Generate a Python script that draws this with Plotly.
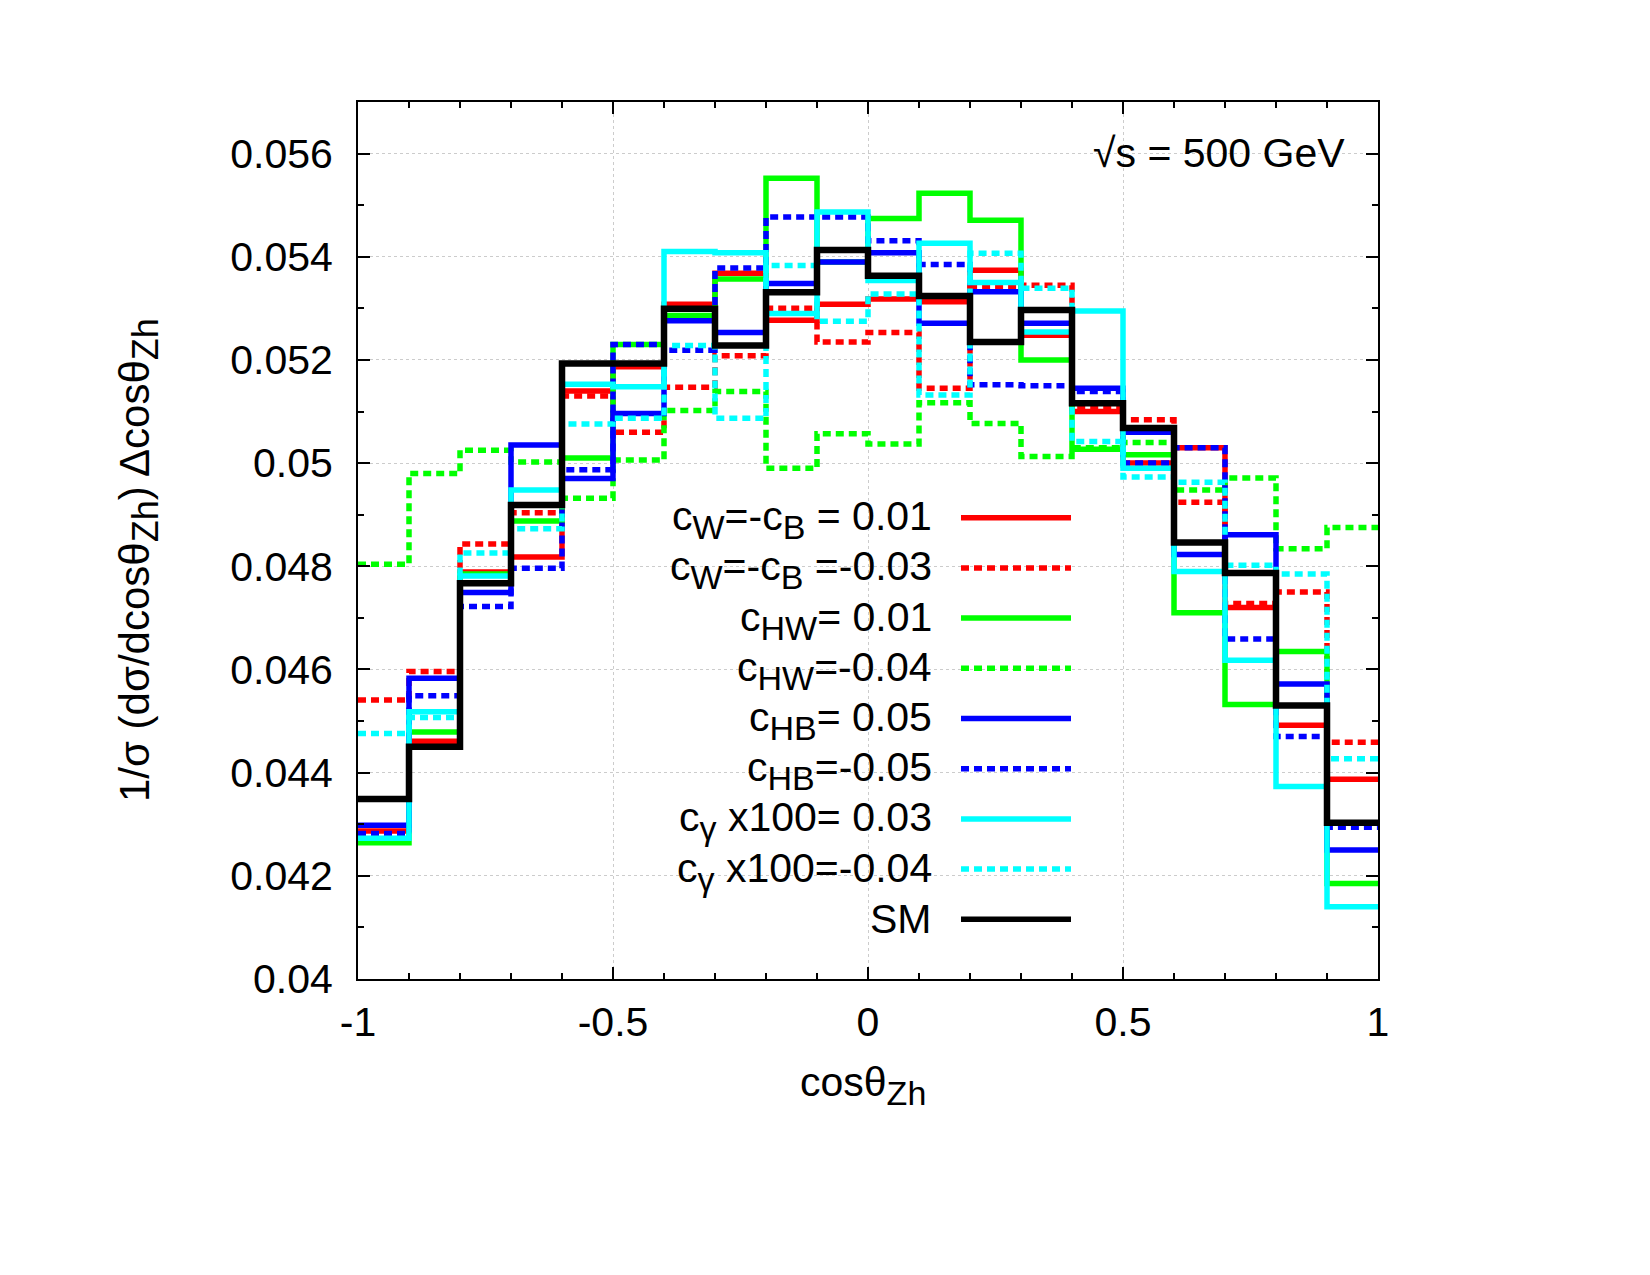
import plotly.graph_objects as go

# ---------------- data ----------------
bin_low = [-1.0, -0.9, -0.8, -0.7, -0.6, -0.5, -0.4, -0.3, -0.2, -0.1,
           0.0, 0.1, 0.2, 0.3, 0.4, 0.5, 0.6, 0.7, 0.8, 0.9]
last_edge = 1.0

cWB_p001 = [0.04287, 0.04461, 0.04789, 0.04818, 0.05140, 0.05187, 0.05308, 0.05368, 0.05277, 0.05308,
            0.05318, 0.05313, 0.05374, 0.05248, 0.05100, 0.05000, 0.05030, 0.04720, 0.04492, 0.04387]
cWB_m003 = [0.04541, 0.04596, 0.04843, 0.04904, 0.05130, 0.05060, 0.05147, 0.05208, 0.05300, 0.05235,
            0.05253, 0.05145, 0.05340, 0.05345, 0.05106, 0.05084, 0.04924, 0.04728, 0.04750, 0.04459]
cHW_p001 = [0.04264, 0.04479, 0.04785, 0.04888, 0.05010, 0.05230, 0.05286, 0.05357, 0.05552, 0.05390,
            0.05474, 0.05523, 0.05471, 0.05200, 0.05027, 0.05016, 0.04710, 0.04532, 0.04635, 0.04185]
cHW_m004 = [0.04804, 0.04980, 0.05025, 0.05002, 0.04932, 0.05006, 0.05102, 0.05139, 0.04990, 0.05057,
            0.05037, 0.05117, 0.05077, 0.05013, 0.05030, 0.05040, 0.04948, 0.04971, 0.04834, 0.04875]
cHB_p005 = [0.04298, 0.04583, 0.04749, 0.05035, 0.04970, 0.05096, 0.05276, 0.05253, 0.05348, 0.05390,
            0.05408, 0.05271, 0.05332, 0.05271, 0.05145, 0.05060, 0.04823, 0.04861, 0.04572, 0.04250]
cHB_m005 = [0.04282, 0.04549, 0.04722, 0.04796, 0.04987, 0.05230, 0.05219, 0.05378, 0.05477, 0.05477,
            0.05431, 0.05385, 0.05152, 0.05150, 0.05139, 0.05000, 0.05030, 0.04659, 0.04470, 0.04294]
cg_p003 = [0.04273, 0.04518, 0.04781, 0.04948, 0.05153, 0.05148, 0.05410, 0.05408, 0.05290, 0.05487,
           0.05354, 0.05426, 0.05350, 0.05254, 0.05295, 0.04990, 0.04790, 0.04618, 0.04373, 0.04140]
cg_m004 = [0.04476, 0.04507, 0.04826, 0.04873, 0.05076, 0.05087, 0.05228, 0.05087, 0.05383, 0.05275,
           0.05328, 0.05132, 0.05407, 0.05339, 0.05042, 0.04973, 0.04963, 0.04802, 0.04785, 0.04427]
sm = [0.04349, 0.04450, 0.04767, 0.04919, 0.05193, 0.05193, 0.05299, 0.05228, 0.05331, 0.05413,
      0.05363, 0.05324, 0.05235, 0.05297, 0.05116, 0.05068, 0.04846, 0.04787, 0.04530, 0.04303]


def sub(s, size=34):
    return '<sub><span style="font-size:%dpx">' % size + s + '</span></sub>'


labels = [
    "c" + sub("W") + "=-c" + sub("B") + " = 0.01",
    "c" + sub("W") + "=-c" + sub("B") + " =-0.03",
    "c" + sub("HW") + "= 0.01",
    "c" + sub("HW") + "=-0.04",
    "c" + sub("HB") + "= 0.05",
    "c" + sub("HB") + "=-0.05",
    "c" + sub("γ") + " x100= 0.03",
    "c" + sub("γ") + " x100=-0.04",
    "SM",
]

y_tickvals = [0.040, 0.042, 0.044, 0.046, 0.048, 0.050, 0.052, 0.054, 0.056]
y_ticktext = ["0.04", "0.042", "0.044", "0.046", "0.048", "0.05", "0.052", "0.054", "0.056"]
x_tickvals = [-1, -0.5, 0, 0.5, 1]
x_ticktext = ["-1", "-0.5", "0", "0.5", "1"]

# ---------------- styling ----------------
FONT = "Liberation Sans, Arial, Helvetica, sans-serif"
DOT = "8px,5px"
series = [
    (cWB_p001, "#ff0000", "solid"),
    (cWB_m003, "#ff0000", DOT),
    (cHW_p001, "#00ff00", "solid"),
    (cHW_m004, "#00ff00", DOT),
    (cHB_p005, "#0000ff", "solid"),
    (cHB_m005, "#0000ff", DOT),
    (cg_p003, "#00ffff", "solid"),
    (cg_m004, "#00ffff", DOT),
    (sm, "#000000", "solid"),
]

fig = go.Figure()
edges = bin_low + [last_edge]
for (vals, color, dash), lab in zip(series, labels):
    fig.add_trace(go.Scatter(
        x=edges, y=vals + [vals[-1]], mode="lines",
        line=dict(shape="hv", color=color, width=6.5 if color == "#000000" else 5.5, dash=dash),
        showlegend=False,
    ))

# manual legend (text left, sample line right)
L, R, T, B = 358, 272, 102, 296
W, H = 1650, 1275
pw, ph = W - L - R, H - T - B


def px(xp):
    return (xp - L) / pw


def py(yp):
    return (H - B - yp) / ph


row0, dy = 517.7, 50.2
shapes = []
annotations = []
for i, ((vals, color, dash), lab) in enumerate(zip(series, labels)):
    yc = row0 + i * dy
    shapes.append(dict(type="line", xref="paper", yref="paper",
                       x0=px(961), x1=px(1071), y0=py(yc), y1=py(yc),
                       line=dict(color=color, width=5.5, dash=dash)))
    has_sub = "<sub>" in lab
    annotations.append(dict(text=lab, xref="paper", yref="paper",
                            x=px(934), y=py(yc), xanchor="right", yanchor="middle",
                            yshift=-2 if has_sub else 0,
                            showarrow=False, font=dict(size=41, color="black", family=FONT)))

annotations.append(dict(text="√s = 500 GeV", xref="paper", yref="paper",
                        x=px(1347), y=py(153), xanchor="right", yanchor="middle",
                        showarrow=False, font=dict(size=41, color="black", family=FONT)))
annotations.append(dict(text="cosθ" + sub("Zh"), xref="paper", yref="paper",
                        x=px(863), y=py(1085), xanchor="center", yanchor="middle",
                        showarrow=False, font=dict(size=41, color="black", family=FONT)))
annotations.append(dict(text="1/σ (dσ/dcosθ" + sub("Zh", 36) + ") Δcosθ" + sub("Zh", 36),
                        xref="paper", yref="paper",
                        x=px(138), y=py(560), xanchor="center", yanchor="middle", textangle=-90,
                        showarrow=False, font=dict(size=42, color="black", family=FONT)))

axis_common = dict(
    showline=True, linewidth=2, linecolor="black", mirror="ticks",
    ticks="inside", tickwidth=2, tickcolor="black", ticklen=12,
    showgrid=True, gridcolor="#cccccc", griddash="dot", gridwidth=1,
    zeroline=False, tickfont=dict(size=41, color="black", family=FONT),
)

fig.update_layout(
    width=W, height=H,
    margin=dict(l=L, r=R, t=T, b=B, pad=0),
    paper_bgcolor="white", plot_bgcolor="white",
    font=dict(family=FONT, color="black"),
    xaxis=dict(range=[-1, 1], tickmode="array", tickvals=x_tickvals, ticktext=x_ticktext,
               ticklabelstandoff=6,
               minor=dict(ticks="inside", dtick=0.1, tick0=-1, ticklen=6, tickwidth=2,
                          tickcolor="black", showgrid=False),
               **axis_common),
    yaxis=dict(range=[0.040, 0.057], tickmode="array", tickvals=y_tickvals, ticktext=y_ticktext,
               ticklabelstandoff=15,
               minor=dict(ticks="inside", dtick=0.001, tick0=0.04, ticklen=6, tickwidth=2,
                          tickcolor="black", showgrid=False),
               **axis_common),
    shapes=shapes,
    annotations=annotations,
)

fig.write_html("out.html")
